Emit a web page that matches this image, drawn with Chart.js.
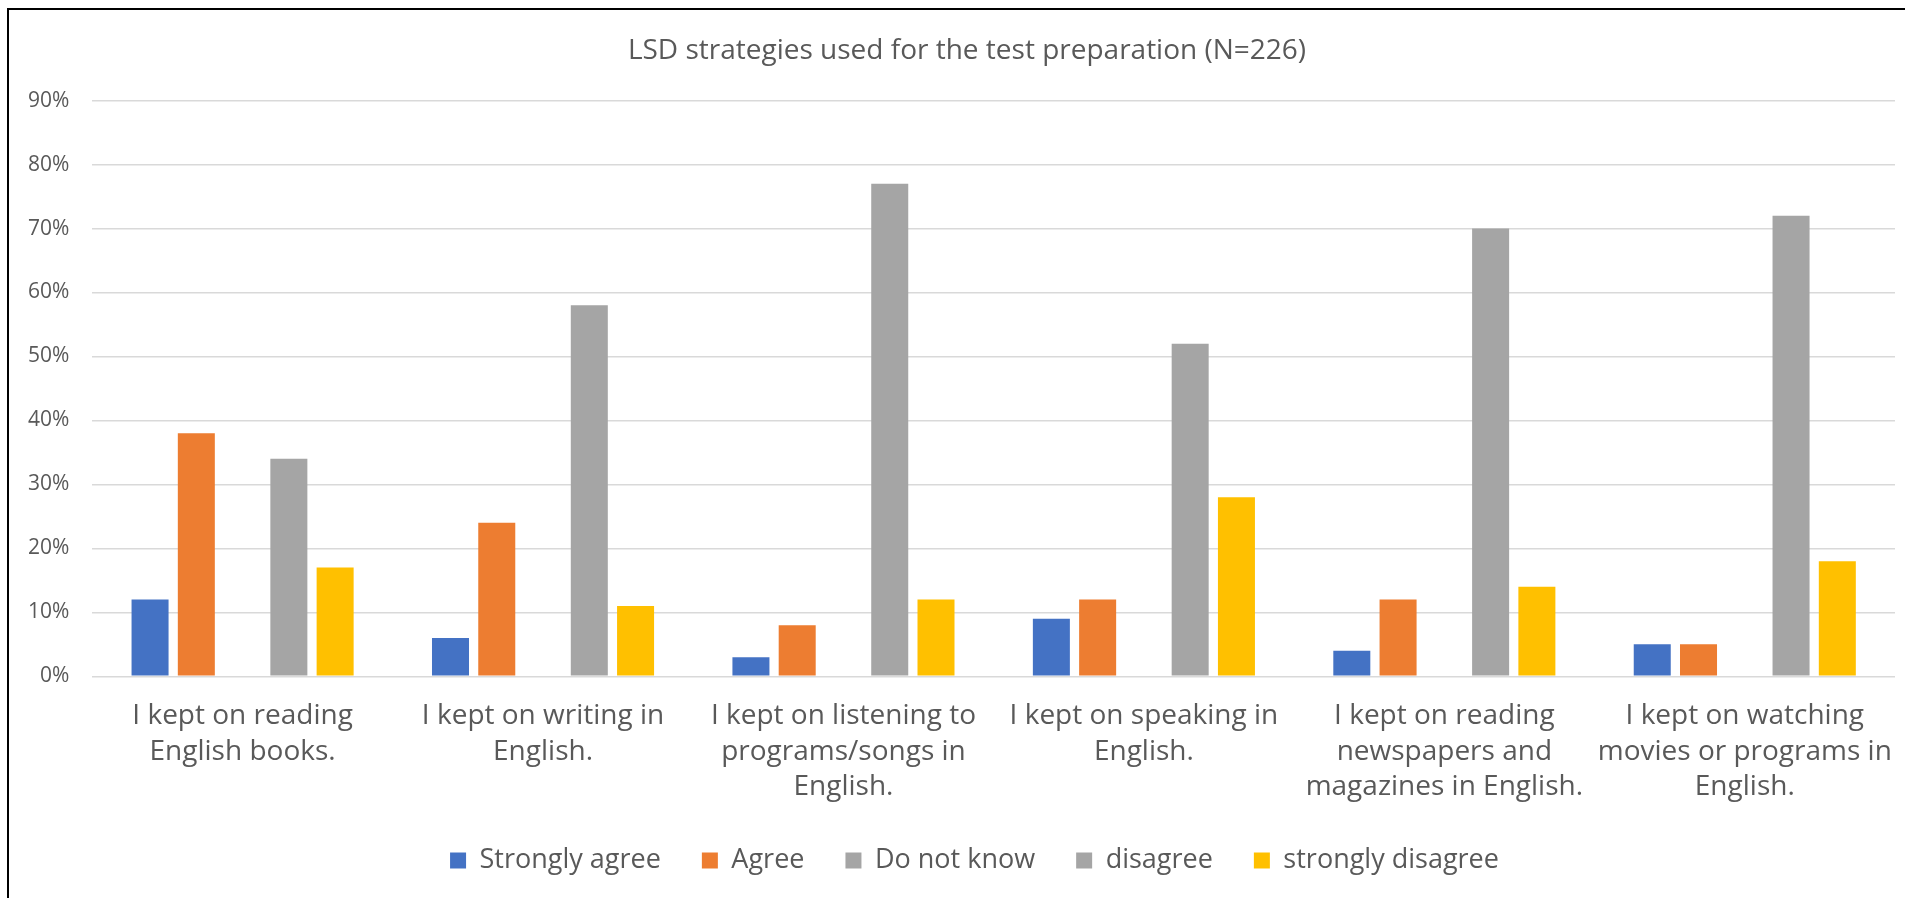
<!DOCTYPE html>
<html>
<head>
<meta charset="utf-8">
<title>LSD strategies used for the test preparation</title>
<script src="https://cdn.jsdelivr.net/npm/chart.js@4.4.1/dist/chart.umd.min.js"></script>
<style>
  html, body { margin: 0; padding: 0; background: #fff; overflow: hidden; }
  #wrap { position: relative; width: 1905px; height: 898px; }
  #frame {
    position: absolute; left: 7px; top: 8px; right: -10px; bottom: -10px;
    border-left: 2px solid #000; border-top: 2px solid #000;
    pointer-events: none;
  }
</style>
</head>
<body>
<div id="wrap">
  <canvas id="chart" width="1905" height="898"></canvas>
  <div id="frame"></div>
</div>
<script>
const categories = [
  ["I kept on reading", "English books."],
  ["I kept on writing in", "English."],
  ["I kept on listening to", "programs/songs in", "English."],
  ["I kept on speaking in", "English."],
  ["I kept on reading", "newspapers and", "magazines in English."],
  ["I kept on watching", "movies or programs in", "English."]
];

const stronglyAgree = [12, 6, 3, 9, 4, 5];
const agree = [38, 24, 8, 12, 12, 5];
const doNotKnow = [0, 0, 0, 0, 0, 0];
const disagree = [34, 58, 77, 52, 70, 72];
const stronglyDisagree = [17, 11, 12, 28, 14, 18];

const yTicks = [0, 10, 20, 30, 40, 50, 60, 70, 80, 90];

const textColor = "#595959";
const fontFamily = "'Open Sans', 'Noto Sans', sans-serif";

function series(label, data, color) {
  return {
    label,
    data,
    backgroundColor: color,
    borderWidth: 0,
    categoryPercentage: 0.77,
    barPercentage: 0.8
  };
}

// Excel centres title and legend on the whole frame, not on the plot;
// nudge the boxes a bit to the right to match
const boxNudge = {
  id: "boxNudge",
  afterLayout(chart) {
    if (chart.titleBlock) chart.titleBlock.left += 34;
    if (chart.legend) chart.legend.left += 49;
  }
};

new Chart(document.getElementById("chart"), {
  type: "bar",
  data: {
    labels: categories,
    datasets: [
      series("Strongly agree", stronglyAgree, "#4472C4"),
      series("Agree", agree, "#ED7D31"),
      series("Do not know", doNotKnow, "#A5A5A5"),
      series("disagree", disagree, "#A5A5A5"),
      series("strongly disagree", stronglyDisagree, "#FFC000")
    ]
  },
  plugins: [boxNudge],
  options: {
    responsive: false,
    animation: false,
    layout: {
      padding: { top: 10, left: 5, right: 10, bottom: 14 }
    },
    plugins: {
      title: {
        display: true,
        text: "LSD strategies used for the test preparation (N=226)",
        color: textColor,
        font: { family: fontFamily, size: 28, weight: "normal" },
        padding: { top: 24, bottom: 33 }
      },
      legend: {
        position: "bottom",
        labels: {
          color: textColor,
          font: { family: fontFamily, size: 27 },
          boxWidth: 16,
          boxHeight: 16,
          padding: 41
        }
      },
      tooltip: { enabled: false }
    },
    scales: {
      x: {
        // chart.js reserves the tick padding twice; the labels only need it once.
        // the wrapped labels fit inside their category, so no side padding either
        afterFit(scale) {
          scale.height -= 21;
          scale.paddingLeft = 0;
          scale.paddingRight = 0;
        },
        grid: { display: false, drawTicks: false },
        border: { display: false },
        ticks: {
          color: textColor,
          font: { family: fontFamily, size: 28, lineHeight: 1.27 },
          padding: 22,
          autoSkip: false,
          maxRotation: 0,
          minRotation: 0
        }
      },
      y: {
        min: yTicks[0],
        max: yTicks[yTicks.length - 1],
        grid: { color: "#D9D9D9", lineWidth: 1.5, drawTicks: false },
        border: { display: false },
        ticks: {
          stepSize: yTicks[1] - yTicks[0],
          color: textColor,
          font: { family: fontFamily, size: 21 },
          padding: 23,
          callback(value) {
            return `${value}%`;
          }
        }
      }
    }
  }
});
</script>
</body>
</html>
